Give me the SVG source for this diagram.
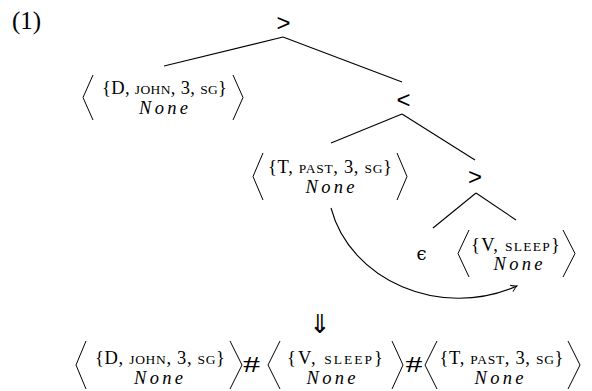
<svg xmlns="http://www.w3.org/2000/svg" width="592" height="391" viewBox="0 0 592 391">
<style>
.t{font-family:"Liberation Serif","DejaVu Serif",serif;font-size:18.5px;fill:#000;text-anchor:middle}
.sc{font-size:13.5px}
.n{font-family:"Liberation Serif","DejaVu Serif",serif;font-size:18.5px;font-style:italic;fill:#000;text-anchor:middle}
.op{font-family:"Liberation Sans","DejaVu Sans",sans-serif;font-size:24px;fill:#000;text-anchor:middle}
.br{fill:none;stroke:#000;stroke-width:1}
.e{fill:none;stroke:#000;stroke-width:1.1}
.hash{font-family:"Liberation Serif","DejaVu Serif",serif;font-size:23px;fill:#000;text-anchor:middle}
</style>
<defs>
<marker id="arr" viewBox="-8 -5 10 10" refX="0" refY="0" markerWidth="10" markerHeight="10" markerUnits="userSpaceOnUse" orient="auto">
<path d="M-6,-3.5 Q-2.5,-0.8 0,0 Q-2.5,0.8 -6,3.5" fill="none" stroke="#000" stroke-width="1"/>
</marker>
</defs>
<rect width="592" height="391" fill="#fff"/>
<text x="12" y="29" font-family="Liberation Serif,serif" font-size="25">(1)</text>

<g id="root"><text class="op" x="283.5" y="30.5">&gt;</text></g>
<g id="lt1"><text class="op" x="403.5" y="108">&lt;</text></g>
<g id="gt2"><text class="op" x="475" y="185">&gt;</text></g>

<g id="connectors">
<line class="e" x1="283" y1="37" x2="164" y2="66"/>
<line class="e" x1="283" y1="37" x2="402" y2="82"/>
<line class="e" x1="402" y1="114" x2="331" y2="143"/>
<line class="e" x1="402" y1="114" x2="475" y2="160"/>
<line class="e" x1="476" y1="193" x2="433" y2="228"/>
<line class="e" x1="476" y1="193" x2="516" y2="220"/>
<path class="e" d="M331,208 C350,280 440,320 517,286" marker-end="url(#arr)"/>
</g>

<g id="nodeD">
<path class="br" d="M93,75 L83,97.5 L93,120"/>
<text class="t" x="164.5" y="94" textLength="125" lengthAdjust="spacing">{D, <tspan class="sc">JOHN</tspan>, 3, <tspan class="sc">SG</tspan>}</text>
<text class="n" x="163.5" y="114" textLength="49" lengthAdjust="spacing">None</text>
<path class="br" d="M233,75 L243,97.5 L233,120"/>
</g>

<g id="nodeT">
<path class="br" d="M263,153 L253,176.5 L263,200"/>
<text class="t" x="330" y="173" textLength="124" lengthAdjust="spacing">{T, <tspan class="sc">PAST</tspan>, 3, <tspan class="sc">SG</tspan>}</text>
<text class="n" x="330" y="193" textLength="49" lengthAdjust="spacing">None</text>
<path class="br" d="M397,153 L407,176.5 L397,200"/>
</g>

<g id="eps"><text x="421.5" y="260" font-family="DejaVu Serif,serif" font-size="18" text-anchor="middle">ϵ</text></g>

<g id="nodeV">
<path class="br" d="M469,230 L458,253.5 L469,277"/>
<text class="t" x="515.5" y="251" textLength="89" lengthAdjust="spacing">{V, <tspan class="sc">SLEEP</tspan>}</text>
<text class="n" x="518" y="270" textLength="49" lengthAdjust="spacing">None</text>
<path class="br" d="M563,230 L575,253.5 L563,277"/>
</g>

<g id="arrowDown"><text x="320" y="333" font-family="DejaVu Sans,sans-serif" font-size="26" text-anchor="middle">⇓</text></g>

<g id="result">
<path class="br" d="M86,341 L76,365 L86,389"/>
<text class="t" x="160" y="364" textLength="130" lengthAdjust="spacing">{D, <tspan class="sc">JOHN</tspan>, 3, <tspan class="sc">SG</tspan>}</text>
<text class="n" x="158.5" y="384" textLength="49" lengthAdjust="spacing">None</text>
<path class="br" d="M230,341 L242,365 L230,389"/>
<text class="hash" x="251.5" y="372" textLength="17" lengthAdjust="spacingAndGlyphs">#</text>
<path class="br" d="M280,341 L268,365 L280,389"/>
<text class="t" x="335" y="364" textLength="96" lengthAdjust="spacing">{V, <tspan class="sc">SLEEP</tspan>}</text>
<text class="n" x="331" y="384" textLength="49" lengthAdjust="spacing">None</text>
<path class="br" d="M392,341 L403,365 L392,389"/>
<text class="hash" x="414" y="372" textLength="17" lengthAdjust="spacingAndGlyphs">#</text>
<path class="br" d="M437,341 L425,365 L437,389"/>
<text class="t" x="501.5" y="364" textLength="124" lengthAdjust="spacing">{T, <tspan class="sc">PAST</tspan>, 3, <tspan class="sc">SG</tspan>}</text>
<text class="n" x="499" y="384" textLength="49" lengthAdjust="spacing">None</text>
<path class="br" d="M568,341 L580,365 L568,389"/>
</g>
</svg>
